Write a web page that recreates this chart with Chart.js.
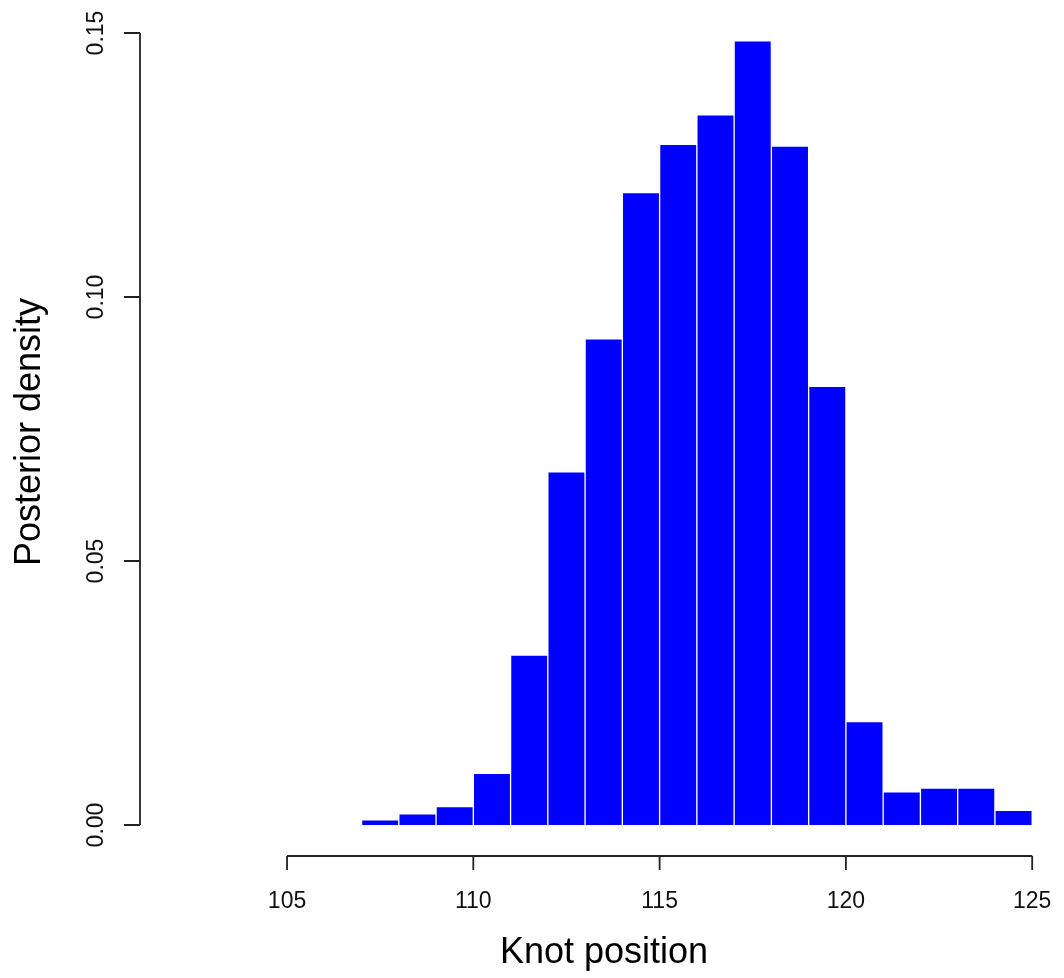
<!DOCTYPE html>
<html>
<head>
<meta charset="utf-8">
<script src="https://cdn.jsdelivr.net/npm/chart.js@4/dist/chart.umd.min.js"></script>
<style>
  html, body { margin: 0; padding: 0; background: #fff; overflow: hidden; }
  canvas { display: block; }
</style>
</head>
<body>
<canvas id="myChart" width="1064" height="978"></canvas>
<script>
// histogram bins (left edges, width 1) and posterior density per bin
var binLeft = [107, 108, 109, 110, 111, 112, 113, 114, 115, 116, 117, 118, 119, 120, 121, 122, 123, 124];
var density = [0.0010, 0.0021, 0.0035, 0.0098, 0.0322, 0.0669, 0.0921, 0.1198, 0.1289,
               0.1345, 0.1485, 0.1286, 0.0831, 0.0196, 0.0063, 0.0070, 0.0070, 0.0028];
var xTicks = [105, 110, 115, 120, 125];
var yTicks = [0, 0.05, 0.10, 0.15];
var yTickLabels = ['0.00', '0.05', '0.10', '0.15'];
var xTitle = 'Knot position';
var yTitle = 'Posterior density';

var FONT = '"Liberation Sans", Arial, Helvetica, sans-serif';

// R style detached axes, drawn with the chart's own scales
var rAxes = {
  id: 'rAxes',
  afterDraw: function(chart) {
    var c = chart.ctx, xs = chart.scales.x, ys = chart.scales.y;
    var area = chart.chartArea;
    c.save();
    c.strokeStyle = '#222';
    c.fillStyle = '#111';
    c.lineWidth = 1.8;

    // x axis
    var ax = area.bottom;
    c.beginPath();
    c.moveTo(xs.getPixelForValue(xTicks[0]), ax);
    c.lineTo(xs.getPixelForValue(xTicks[xTicks.length - 1]), ax);
    xTicks.forEach(function(t) {
      var px = xs.getPixelForValue(t);
      c.moveTo(px, ax);
      c.lineTo(px, ax + 14);
    });
    c.stroke();
    c.font = '23px ' + FONT;
    c.textAlign = 'center';
    c.textBaseline = 'alphabetic';
    xTicks.forEach(function(t) {
      c.fillText(String(t), xs.getPixelForValue(t), ax + 52);
    });

    // y axis
    var ay = area.left;
    c.beginPath();
    c.moveTo(ay, ys.getPixelForValue(yTicks[0]));
    c.lineTo(ay, ys.getPixelForValue(yTicks[yTicks.length - 1]));
    yTicks.forEach(function(t) {
      var py = ys.getPixelForValue(t);
      c.moveTo(ay, py);
      c.lineTo(ay - 16, py);
    });
    c.stroke();
    yTicks.forEach(function(t, i) {
      c.save();
      c.translate(ay - 37, ys.getPixelForValue(t));
      c.rotate(-Math.PI / 2);
      c.textAlign = 'center';
      c.fillText(yTickLabels[i], 0, 0);
      c.restore();
    });

    // titles
    c.fillStyle = '#000';
    c.font = '36px ' + FONT;
    c.textAlign = 'center';
    c.fillText(xTitle, 604, 963);
    c.save();
    c.translate(40, 432);
    c.rotate(-Math.PI / 2);
    c.fillText(yTitle, 0, 0);
    c.restore();
    c.restore();
  }
};

var ctx = document.getElementById('myChart').getContext('2d');
var myChart = new Chart(ctx, {
  type: 'bar',
  data: {
    datasets: [{
      data: binLeft.map(function(b, i) { return {x: b + 0.5, y: density[i]}; }),
      backgroundColor: '#0000FF',
      borderColor: '#FFFFFF',
      borderWidth: 1,
      barPercentage: 1,
      categoryPercentage: 1
    }]
  },
  options: {
    responsive: false,
    animation: false,
    devicePixelRatio: 1,
    layout: { padding: { left: 140, right: 2, top: 9, bottom: 122 } },
    plugins: { legend: { display: false }, tooltip: { enabled: false } },
    scales: {
      x: { type: 'linear', display: false, offset: false, min: 101.054, max: 125.80 },
      y: { type: 'linear', display: false, min: -0.00587, max: 0.15455 }
    }
  },
  plugins: [rAxes]
});
</script>
</body>
</html>
